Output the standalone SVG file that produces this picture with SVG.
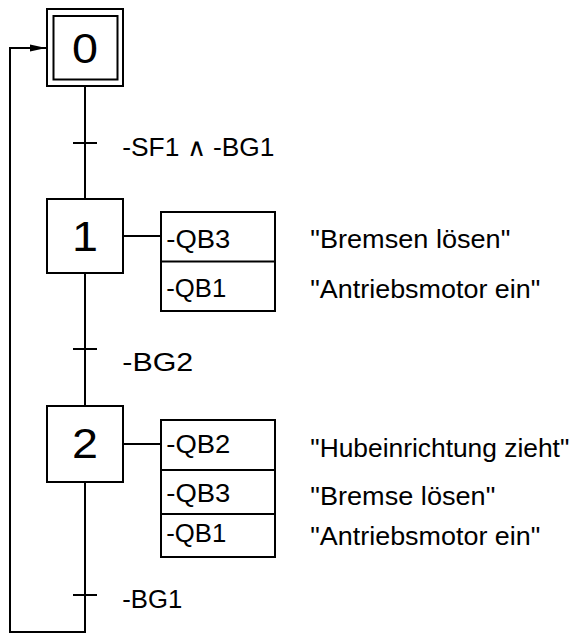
<svg xmlns="http://www.w3.org/2000/svg" width="573" height="635" viewBox="0 0 573 635">
<style>
.ln{fill:none;stroke:#000;stroke-width:2}
.bx{fill:#fff;stroke:#000;stroke-width:2}
.t{font-family:"Liberation Sans",Arial,sans-serif;font-size:25px;fill:#000}
.n{font-family:"Liberation Sans",Arial,sans-serif;font-size:43px;fill:#000;text-anchor:middle}
</style>
<defs>
<marker id="ah" viewBox="0 0 16 8" refX="16" refY="4" markerWidth="16" markerHeight="8" markerUnits="userSpaceOnUse" orient="auto">
<path d="M0,0.5 L16,4 L0,7.5 Z" fill="#000"/>
</marker>
</defs>
<g id="connectors">
<line class="ln" x1="85" y1="86" x2="85" y2="199"/>
<line class="ln" x1="85" y1="273" x2="85" y2="406"/>
<polyline class="ln" points="85,482 85,632 10,632 10,48 46,48" marker-end="url(#ah)"/>
<line class="ln" x1="123" y1="236" x2="161" y2="236"/>
<line class="ln" x1="123" y1="444" x2="161" y2="444"/>
</g>
<g id="t1">
<line class="ln" x1="73" y1="143" x2="97" y2="143"/>
<text class="t" x="122.3" y="156" textLength="152" lengthAdjust="spacingAndGlyphs">-SF1 ∧ -BG1</text>
</g>
<g id="t2">
<line class="ln" x1="73" y1="349" x2="97" y2="349"/>
<text class="t" x="122.3" y="370.5" textLength="71" lengthAdjust="spacingAndGlyphs">-BG2</text>
</g>
<g id="t3">
<line class="ln" x1="73" y1="595" x2="97" y2="595"/>
<text class="t" x="122.3" y="608" textLength="60" lengthAdjust="spacingAndGlyphs">-BG1</text>
</g>
<g id="step0">
<rect class="bx" x="47" y="9" width="76" height="77"/>
<rect class="bx" x="53.5" y="16" width="64" height="63.5" stroke-width="3"/>
<text class="n" x="85" y="63" textLength="26" lengthAdjust="spacingAndGlyphs">0</text>
</g>
<g id="step1">
<rect class="bx" x="47" y="199" width="76" height="74"/>
<text class="n" x="85" y="251" textLength="26" lengthAdjust="spacingAndGlyphs">1</text>
</g>
<g id="step2">
<rect class="bx" x="47" y="406" width="76" height="76"/>
<text class="n" x="85" y="458" textLength="26" lengthAdjust="spacingAndGlyphs">2</text>
</g>
<g id="actions1">
<rect class="bx" x="161" y="212" width="114" height="99"/>
<line class="ln" x1="161" y1="261.5" x2="275" y2="261.5"/>
<text class="t" x="166.3" y="248" textLength="64" lengthAdjust="spacingAndGlyphs">-QB3</text>
<text class="t" x="166.3" y="297" textLength="60" lengthAdjust="spacingAndGlyphs">-QB1</text>
<text class="t" x="310.3" y="248.3" textLength="200" lengthAdjust="spacingAndGlyphs">"Bremsen lösen"</text>
<text class="t" x="310.3" y="298.3" textLength="230" lengthAdjust="spacingAndGlyphs">"Antriebsmotor ein"</text>
</g>
<g id="actions2">
<rect class="bx" x="161" y="420" width="114" height="137"/>
<line class="ln" x1="161" y1="470" x2="275" y2="470"/>
<line class="ln" x1="161" y1="514" x2="275" y2="514"/>
<text class="t" x="166.3" y="452.7" textLength="64" lengthAdjust="spacingAndGlyphs">-QB2</text>
<text class="t" x="166.3" y="501.7" textLength="64" lengthAdjust="spacingAndGlyphs">-QB3</text>
<text class="t" x="166.3" y="541.7" textLength="60" lengthAdjust="spacingAndGlyphs">-QB1</text>
<text class="t" x="310.3" y="456.7" textLength="259" lengthAdjust="spacingAndGlyphs">"Hubeinrichtung zieht"</text>
<text class="t" x="310.3" y="505" textLength="185" lengthAdjust="spacingAndGlyphs">"Bremse lösen"</text>
<text class="t" x="310.3" y="545" textLength="230" lengthAdjust="spacingAndGlyphs">"Antriebsmotor ein"</text>
</g>
</svg>
